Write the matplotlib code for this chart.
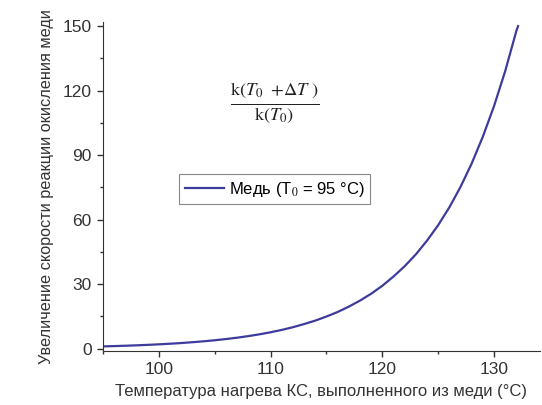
import matplotlib
matplotlib.use('Agg')
import matplotlib.pyplot as plt
from matplotlib.ticker import MultipleLocator

# values, one per degree
temps = [95, 96, 97, 98, 99, 100, 101, 102, 103, 104, 105, 106, 107, 108, 109,
         110, 111, 112, 113, 114, 115, 116, 117, 118, 119, 120, 121, 122, 123,
         124, 125, 126, 127, 128, 129, 130, 131, 132, 132.15]
ratio = [1.0, 1.15, 1.31, 1.5, 1.72, 1.96, 2.25, 2.57, 2.95, 3.37, 3.86, 4.42,
         5.05, 5.79, 6.62, 7.58, 8.67, 9.93, 11.4, 13.0, 14.9, 17.0, 19.5, 22.3,
         25.5, 29.2, 33.5, 38.3, 43.8, 50.2, 57.4, 65.7, 75.2, 86.1, 98.6, 112.8,
         129.1, 147.8, 150]

xticks = [100, 110, 120, 130]
yticks = [0, 30, 60, 90, 120, 150]

plt.rcParams['font.family'] = ['Liberation Sans', 'DejaVu Sans']
plt.rcParams['mathtext.fontset'] = 'stix'

fig = plt.figure(figsize=(5.42, 4.05), dpi=100)
ax = fig.add_axes([0.19, 0.133, 0.806, 0.813])

ax.plot(temps, ratio, color='#3d3c9c', lw=1.6, label='Медь (T$_0$ = 95 °C)')

ax.set_xlim(95, 134.1)
ax.set_ylim(-1.2, 152)
ax.set_xticks(xticks)
ax.set_yticks(yticks)
ax.xaxis.set_minor_locator(MultipleLocator(5))
ax.yaxis.set_minor_locator(MultipleLocator(15))
ax.tick_params(which='major', direction='out', length=4, width=1, labelsize=12.5,
               colors='#333333', pad=4)
ax.tick_params(which='minor', direction='out', length=2, width=1, colors='#333333')
for s in ['top', 'right']:
    ax.spines[s].set_visible(False)
for s in ['left', 'bottom']:
    ax.spines[s].set_color('#333333')

ax.set_xlabel('Температура нагрева КС, выполненного из меди (°С)', fontsize=12,
              color='#333333', labelpad=5)
ax.set_ylabel('Увеличение скорости реакции окисления меди', fontsize=11.7,
              color='#333333', labelpad=6)

fig.text(0.507, 0.745, r'$\frac{\mathrm{k}(T_0\ +\!\Delta T\ )}{\mathrm{k}(T_0)}$',
         fontsize=19, ha='center', va='center', color='#222222')

leg = ax.legend(loc='center', bbox_to_anchor=(0.507, 0.533), bbox_transform=fig.transFigure,
                fontsize=12, fancybox=False, edgecolor='#888888', framealpha=1,
                handlelength=2.3, handletextpad=0.3, borderpad=0.35, borderaxespad=0)
leg.get_frame().set_linewidth(0.8)

fig.savefig('out.png', dpi=100)
